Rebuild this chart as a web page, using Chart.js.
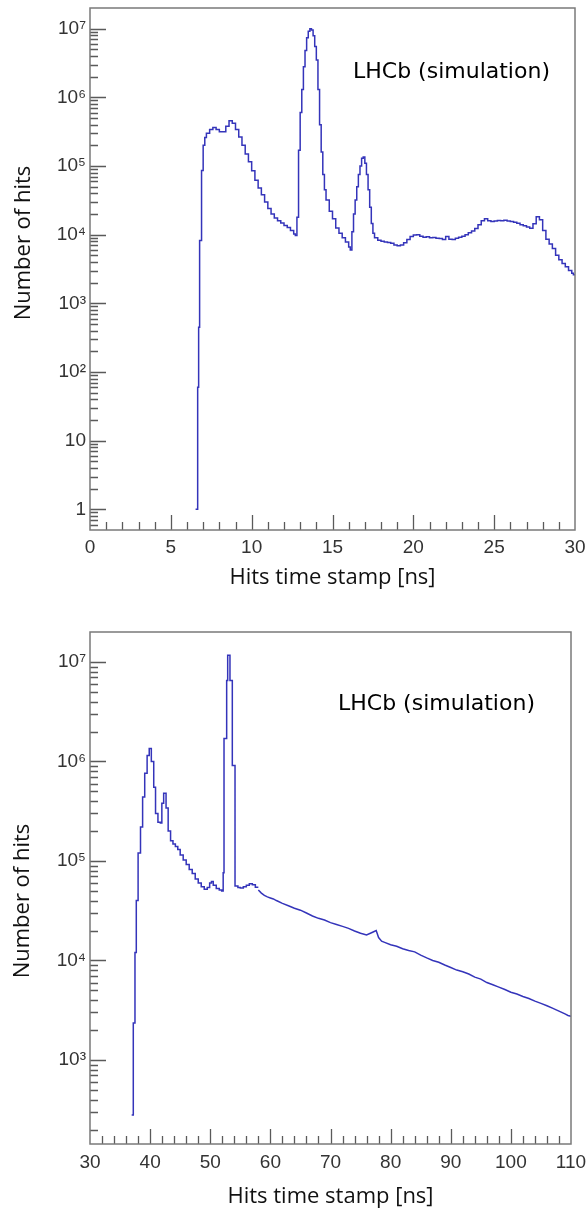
<!DOCTYPE html>
<html>
<head>
<meta charset="utf-8">
<script src="https://cdn.jsdelivr.net/npm/chart.js@4"></script>
<style>
  html, body { margin: 0; padding: 0; background: #ffffff; }
  #wrap { position: relative; width: 588px; height: 1210px; }
  canvas { position: absolute; left: 0; }
</style>
</head>
<body>
<div id="wrap">
  <canvas id="top" width="588" height="600" style="top:0px"></canvas>
  <canvas id="bottom" width="588" height="610" style="top:600px"></canvas>
</div>
<script>
// ---------------- DATA (time in ns, number of hits) ----------------
// Top panel: histogram, bin low edges
const topTime = [
  6.45, 6.53, 6.66, 6.72, 6.78, 6.90, 7.00, 7.10, 7.20, 7.40,
  7.60, 7.80, 8.00, 8.20, 8.40, 8.60, 8.80, 9.00, 9.20, 9.40,
  9.60, 9.80, 10.00, 10.20, 10.40, 10.60, 10.80, 11.00, 11.20, 11.40,
  11.60, 11.80, 12.00, 12.20, 12.40, 12.60, 12.70, 12.80, 12.90, 13.00,
  13.10, 13.20, 13.30, 13.40, 13.50, 13.60, 13.70, 13.80, 13.90, 14.00,
  14.10, 14.20, 14.30, 14.40, 14.50, 14.60, 14.80, 15.00, 15.20, 15.40,
  15.60, 15.80, 16.00, 16.10, 16.20, 16.30, 16.40, 16.50, 16.60, 16.70,
  16.80, 16.90, 17.00, 17.10, 17.20, 17.30, 17.40, 17.50, 17.60, 17.80,
  18.00, 18.20, 18.40, 18.60, 18.80, 19.00, 19.20, 19.40, 19.60, 19.80,
  20.00, 20.20, 20.40, 20.60, 20.80, 21.00, 21.20, 21.40, 21.60, 21.80,
  22.00, 22.20, 22.40, 22.60, 22.80, 23.00, 23.20, 23.40, 23.60, 23.80,
  24.00, 24.20, 24.40, 24.60, 24.80, 25.00, 25.20, 25.40, 25.60, 25.80,
  26.00, 26.20, 26.40, 26.60, 26.80, 27.00, 27.20, 27.40, 27.60, 27.80,
  28.00, 28.20, 28.40, 28.60, 28.80, 29.00, 29.20, 29.40, 29.60, 29.80,
  29.90
];
const topHits = [
  0, 1, 60, 450, 8200, 86000, 200000, 260000, 300000, 340000,
  365000, 340000, 315000, 315000, 380000, 455000, 420000, 340000, 265000, 200000,
  150000, 115000, 85000, 62000, 48000, 38000, 30000, 24000, 20000, 17500,
  16000, 14800, 13600, 12700, 11500, 10200, 9700, 18000, 170000, 600000,
  1300000, 2800000, 4800000, 7400000, 9200000, 10000000, 9600000, 7900000, 5500000, 3500000,
  1300000, 400000, 160000, 75000, 45000, 32000, 22000, 17000, 12500, 10500,
  9000, 7800, 6600, 6000, 11000, 20000, 32000, 50000, 75000, 100000,
  130000, 135000, 110000, 75000, 45000, 25000, 14500, 10500, 9000, 8300,
  8000, 7800, 7700, 7500, 7100, 6900, 7100, 7600, 8500, 9400,
  9900, 10000, 9500, 9200, 9300, 9000, 9100, 8900, 8800, 8500,
  9400, 8600, 8500, 8900, 9200, 9500, 10000, 10700, 11300, 12300,
  14000, 16000, 17000, 16000, 15500, 15800, 16100, 16000, 16200, 15800,
  15500, 15200, 14700, 14000, 13500, 12900, 12400, 14400, 18300, 16500,
  11500, 8600, 7300, 6300, 5000, 4300, 3800, 3400, 3000, 2750,
  2600
];
const topEnd = 30;

// Bottom panel: histogram part (bin low edges) up to 58 ns
const bottomTime = [
  36.80, 36.93, 37.20, 37.48, 37.70, 38.00, 38.40, 38.75, 39.10, 39.50,
  39.85, 40.20, 40.60, 40.90, 41.30, 41.70, 41.95, 42.25, 42.65, 43.00,
  43.40, 43.80, 44.20, 44.60, 45.00, 45.50, 46.00, 46.50, 47.00, 47.50,
  48.00, 48.50, 49.00, 49.50, 49.90, 50.20, 50.50, 51.00, 51.50, 51.90,
  52.15, 52.29, 52.73, 52.90, 53.28, 53.67, 54.12, 54.60, 55.00, 55.50,
  56.00, 56.50, 57.00, 57.50
];
const bottomHits = [
  0, 280, 2350, 12000, 40000, 120000, 220000, 440000, 760000, 1150000,
  1350000, 1000000, 550000, 300000, 245000, 240000, 380000, 480000, 340000, 200000,
  160000, 148000, 140000, 130000, 115000, 102000, 92000, 82000, 75000, 66000,
  60000, 55000, 52000, 54000, 60000, 62000, 57000, 53000, 51000, 50000,
  76000, 1700000, 6500000, 11700000, 6500000, 910000, 56000, 54000, 53500, 55000,
  57000, 59000, 57500, 54500
];
const bottomHistEnd = 58;

// Bottom panel: slowly falling tail
const bottomTailTime = [
  58.0, 58.5, 59.0, 59.5, 60.0, 60.5, 61.0, 62.0, 63.0, 64.0,
  65.0, 66.0, 67.0, 68.0, 69.0, 70.0, 71.0, 72.0, 73.0, 74.0,
  75.0, 76.0, 77.0, 77.6, 78.0, 78.5, 79.0, 80.0, 81.0, 82.0,
  83.0, 84.0, 85.0, 86.0, 87.0, 88.0, 89.0, 90.0, 91.0, 92.0,
  93.0, 94.0, 95.0, 96.0, 97.0, 98.0, 99.0, 100.0, 101.0, 102.0,
  103.0, 104.0, 105.0, 106.0, 107.0, 108.0, 109.0, 109.5, 110.0
];
const bottomTailHits = [
  51000, 47500, 45000, 43500, 42500, 41500, 40000, 37500, 35500, 33500,
  32000, 30000, 28000, 26500, 25500, 24000, 23000, 22000, 21000, 19800,
  18800, 18000, 19200, 20000, 17000, 15600, 15200, 14400, 13900, 13100,
  12600, 12200, 11300, 10600, 10000, 9600, 9000, 8500, 8000, 7700,
  7300, 6800, 6500, 6000, 5700, 5400, 5100, 4800, 4600, 4350,
  4150, 3900, 3700, 3500, 3300, 3100, 2900, 2800, 2750
];

// tick definitions
const topXTicks = [0,1,2,3,4,5,6,7,8,9,10,11,12,13,14,15,16,17,18,19,20,21,22,23,24,25,26,27,28,29,30];
const topXLabels = [0, 5, 10, 15, 20, 25, 30];
const bottomXTicks = [30,32,34,36,38,40,42,44,46,48,50,52,54,56,58,60,62,64,66,68,70,72,74,76,78,80,82,84,86,88,90,92,94,96,98,100,102,104,106,108,110];
const bottomXLabels = [30, 40, 50, 60, 70, 80, 90, 100, 110];
const topYDecades = [-1, 0, 1, 2, 3, 4, 5, 6, 7];
const bottomYDecades = [2, 3, 4, 5, 6, 7];

const xTitle = 'Hits time stamp [ns]';
const yTitle = 'Number of hits';
const annotation = 'LHCb (simulation)';

// ---------------- STYLE ----------------
const LINE_COLOR = 'rgb(52,52,186)';
const SUP = {'0':'\u2070','1':'\u00B9','2':'\u00B2','3':'\u00B3','4':'\u2074','5':'\u2075','6':'\u2076','7':'\u2077','8':'\u2078','9':'\u2079','-':'\u207B'};

function logLabel(v) {
  const e = Math.log10(v);
  const r = Math.round(e);
  if (Math.abs(e - r) > 1e-9) return '';
  if (r === 0) return '1';
  if (r === 1) return '10';
  return '10' + String(r).split('').map(c => SUP[c]).join('');
}

function logTicks(decades, min, max) {
  const out = [];
  decades.forEach(d => {
    for (let k = 1; k <= 9; k++) {
      const v = k * Math.pow(10, d);
      if (v > min && v < max) out.push({ value: v });
    }
  });
  return out;
}

const decor = {
  id: 'decor',
  afterDatasetsDraw(chart, args, o) {
    const { ctx, chartArea: a, scales: { x, y } } = chart;
    ctx.save();
    ctx.strokeStyle = '#5a5a5a';
    ctx.lineWidth = 1.3;
    ctx.beginPath();
    x.ticks.forEach(t => {
      const px = Math.round(x.getPixelForValue(t.value)) + 0.5;
      if (px <= a.left + 1 || px >= a.right - 1) return;
      const len = o.xLabels.includes(t.value) ? 15 : 8;
      ctx.moveTo(px, a.bottom);
      ctx.lineTo(px, a.bottom - len);
    });
    y.ticks.forEach(t => {
      const py = Math.round(y.getPixelForValue(t.value)) + 0.5;
      if (py <= a.top + 1 || py >= a.bottom - 1) return;
      const len = logLabel(t.value) ? 16 : 8;
      ctx.moveTo(a.left, py);
      ctx.lineTo(a.left + len, py);
    });
    ctx.stroke();
    ctx.strokeStyle = '#7a7a7a';
    ctx.lineWidth = 1.5;
    ctx.strokeRect(a.left, a.top, a.right - a.left, a.bottom - a.top);

    ctx.fillStyle = '#000';
    ctx.font = '22px "DejaVu Sans"';
    ctx.textAlign = 'left';
    ctx.textBaseline = 'middle';
    ctx.fillText(annotation, o.annX, o.annY);

    ctx.font = '22px "Open Sans"';
    ctx.fillStyle = '#111';
    ctx.translate(o.yTitleX, o.yTitleY);
    ctx.rotate(-Math.PI / 2);
    ctx.textAlign = 'center';
    ctx.fillText(yTitle, 0, 0);
    ctx.restore();
  }
};

function zeroPad(s) { s.paddingLeft = 0; s.paddingRight = 0; s.paddingTop = 0; s.paddingBottom = 0; }

function makeChart(id, c) {
  const datasets = c.series.map(sr => {
    const pts = sr.time.map((t, i) => ({ x: t, y: sr.hits[i] }));
    if (sr.end !== undefined) pts.push({ x: sr.end, y: sr.hits[sr.hits.length - 1] });
    return {
      data: pts,
      borderColor: LINE_COLOR,
      borderWidth: 1.5,
      pointRadius: 0,
      stepped: sr.stepped,
      tension: 0,
      fill: false
    };
  });
  return new Chart(document.getElementById(id), {
    type: 'line',
    data: { datasets },
    options: {
      responsive: false,
      animation: false,
      devicePixelRatio: 1,
      layout: { padding: c.padding },
      plugins: {
        legend: { display: false },
        tooltip: { enabled: false },
        decor: c.decor
      },
      scales: {
        x: {
          type: 'linear',
          min: c.xMin, max: c.xMax,
          afterBuildTicks: s => { s.ticks = c.xTicks.map(v => ({ value: v })); },
          afterFit: s => { s.height = c.xHeight; zeroPad(s); },
          grid: { display: false, drawTicks: false },
          border: { display: false },
          ticks: {
            autoSkip: false, maxRotation: 0, padding: c.xPad,
            color: '#333', font: { family: '"Liberation Sans", Arial', size: 19 },
            callback: v => c.xLabels.includes(v) ? String(v) : ''
          },
          title: {
            display: true, text: xTitle, color: '#111',
            font: { family: '"Open Sans"', size: 22 },
            padding: { top: 0, bottom: c.xTitlePad }
          }
        },
        y: {
          type: 'logarithmic',
          min: c.yMin, max: c.yMax,
          afterBuildTicks: s => { s.ticks = logTicks(c.yDecades, c.yMin, c.yMax); },
          afterFit: s => { s.width = 90; zeroPad(s); },
          grid: { display: false, drawTicks: false },
          border: { display: false },
          ticks: {
            autoSkip: false, padding: 4,
            color: '#333', font: { family: '"Liberation Sans", Arial', size: 19 },
            callback: v => logLabel(v)
          }
        }
      }
    },
    plugins: [decor]
  });
}

makeChart('top', {
  series: [{ time: topTime, hits: topHits, end: topEnd, stepped: true }],
  xMin: 0, xMax: 30, xTicks: topXTicks, xLabels: topXLabels,
  yMin: 0.5, yMax: 2e7, yDecades: topYDecades,
  padding: { left: 0, top: 8, right: 13, bottom: 0 },
  xHeight: 70, xPad: 6, xTitlePad: 9,
  decor: { xLabels: topXLabels, annX: 353, annY: 72, yTitleX: 24, yTitleY: 243 }
});

makeChart('bottom', {
  series: [
    { time: bottomTime, hits: bottomHits, end: bottomHistEnd, stepped: true },
    { time: bottomTailTime, hits: bottomTailHits, stepped: false }
  ],
  xMin: 30, xMax: 110, xTicks: bottomXTicks, xLabels: bottomXLabels,
  yMin: 143, yMax: 2e7, yDecades: bottomYDecades,
  padding: { left: 0, top: 32, right: 17, bottom: 0 },
  xHeight: 66, xPad: 7, xTitlePad: 0,
  decor: { xLabels: bottomXLabels, annX: 338, annY: 104, yTitleX: 23, yTitleY: 301 }
});
</script>
</body>
</html>
